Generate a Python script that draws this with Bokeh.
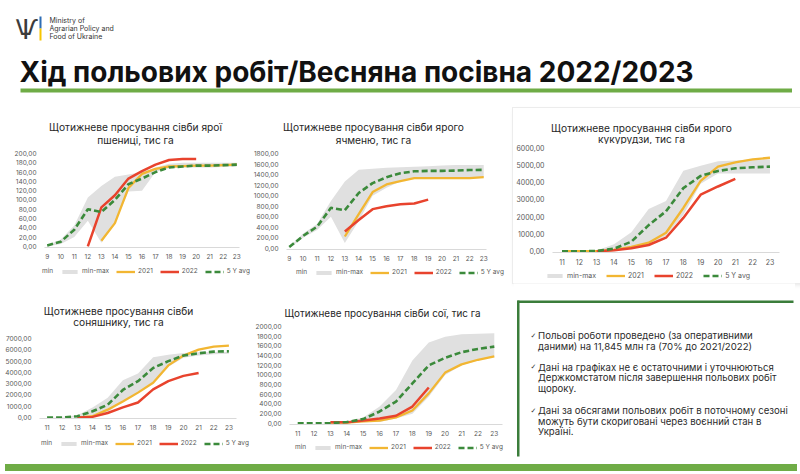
from bokeh.plotting import figure
from bokeh.layouts import column, row
from bokeh.models import (Range1d, FixedTicker, CustomJSTickFormatter, Legend, LegendItem,
                          Label, BoxAnnotation, Div)
from bokeh.embed import file_html
from bokeh.resources import INLINE

# ---------------- data ----------------
weeks_9 = [9, 10, 11, 12, 13, 14, 15, 16, 17, 18, 19, 20, 21, 22, 23]
weeks_11 = [11, 12, 13, 14, 15, 16, 17, 18, 19, 20, 21, 22, 23]

wheat_min = [0, 5, 20, 55, 8, 50, 118, 120, 160, 168, 170, 170, 170, 171, 172]
wheat_max = [2, 15, 45, 105, 130, 150, 155, 160, 170, 178, 180, 180, 180, 180, 180]
wheat_avg = [2, 10, 36, 80, 74, 100, 134, 146, 160, 170, 172, 174, 174, 175, 176]
wheat_w2021 = [13, 14, 15, 16, 17, 18, 19, 20, 21, 22, 23]
wheat_2021 = [12, 50, 126, 156, 167, 172, 173, 174, 174, 175, 176]
wheat_w2022 = [12, 13, 14, 15, 16, 17, 18, 19, 20]
wheat_2022 = [0, 84, 110, 146, 162, 176, 186, 188, 188]

barley_min = [0, 200, 350, 600, 100, 520, 1000, 1150, 1275, 1331, 1331, 1331, 1331, 1331, 1350]
barley_max = [30, 280, 460, 900, 1270, 1490, 1510, 1530, 1540, 1550, 1560, 1570, 1580, 1580, 1580]
barley_avg = [25, 237, 412, 769, 725, 1050, 1237, 1350, 1425, 1462, 1470, 1470, 1475, 1487, 1490]
barley_w2021 = [13, 14, 15, 16, 17, 18, 19, 20, 21, 22, 23]
barley_2021 = [225, 650, 1069, 1212, 1275, 1331, 1331, 1331, 1331, 1331, 1350]
barley_w2022 = [13, 14, 15, 16, 17, 18, 19]
barley_2022 = [319, 537, 744, 800, 837, 850, 925]

corn_min = [0, 0, 0, 20, 150, 350, 900, 2100, 3900, 4500, 4500, 4500, 4500]
corn_max = [0, 0, 50, 400, 1100, 2450, 2900, 4650, 4950, 5200, 5250, 5300, 5300]
corn_avg = [0, 0, 10, 153, 554, 1510, 2312, 3650, 4357, 4643, 4796, 4854, 4892]
corn_w2021 = [11, 12, 13, 14, 15, 16, 17, 18, 19, 20, 21, 22, 23]
corn_2021 = [0, 0, 0, 76, 248, 497, 1070, 2503, 4070, 4892, 5140, 5312, 5408]
corn_w2022 = [13, 14, 15, 16, 17, 18, 19, 20, 21]
corn_2022 = [0, 57, 172, 363, 783, 1930, 3268, 3745, 4185]

sun_min = [0, 0, 0, 50, 500, 1400, 2200, 3100, 4500, 5300, 5500, 5600, 5650]
sun_max = [0, 50, 200, 900, 1750, 3300, 3890, 5340, 5550, 5720, 5780, 5800, 5800]
sun_avg = [0, 0, 116, 552, 1133, 2440, 3224, 4386, 4996, 5489, 5693, 5838, 5867]
sun_w2021 = [13, 14, 15, 16, 17, 18, 19, 20, 21, 22, 23]
sun_2021 = [0, 116, 697, 1423, 2207, 3079, 4618, 5489, 6012, 6274, 6361]
sun_w2022 = [13, 14, 15, 16, 17, 18, 19, 20, 21]
sun_2022 = [0, 58, 407, 900, 1336, 2498, 3224, 3689, 3950]

soy_min = [0, 0, 0, 5, 20, 30, 100, 200, 550, 1000, 1200, 1300, 1380]
soy_max = [0, 0, 20, 40, 120, 350, 690, 1300, 1670, 1790, 1840, 1850, 1860]
soy_avg = [0, 0, 5, 27, 88, 245, 449, 823, 1197, 1354, 1469, 1537, 1585]
soy_w2021 = [13, 14, 15, 16, 17, 18, 19, 20, 21, 22, 23]
soy_2021 = [14, 14, 41, 54, 122, 265, 619, 1048, 1218, 1313, 1381]
soy_w2022 = [13, 14, 15, 16, 17, 18, 19]
soy_2022 = [20, 20, 61, 102, 156, 347, 741]

wheat_yticks = [0, 20, 40, 60, 80, 100, 120, 140, 160, 180, 200]
barley_yticks = [0, 200, 400, 600, 800, 1000, 1200, 1400, 1600, 1800]
corn_yticks = [0, 1000, 2000, 3000, 4000, 5000, 6000]
sun_yticks = [0, 1000, 2000, 3000, 4000, 5000, 6000, 7000]
soy_yticks = [0, 200, 400, 600, 800, 1000, 1200, 1400, 1600, 1800, 2000]

series_labels = ["min", "min-max", "2021", "2022", "5 Y avg"]

slide_title = "Хід польових робіт/Весняна посівна 2022/2023"
ministry_lines = ["Ministry of", "Agrarian Policy and", "Food of Ukraine"]
chart_titles = {
    "wheat": ["Щотижневе просування сівби ярої", "пшениці, тис га"],
    "barley": ["Щотижневе просування сівби ярого", "ячменю, тис га"],
    "corn": ["Щотижневе просування сівби ярого", "кукурудзи, тис га"],
    "sun": ["Щотижневе просування сівби", "соняшнику, тис га"],
    "soy": ["Щотижневе просування сівби сої, тис га"],
}
notes = [
    ["Польові роботи проведено (за оперативними", "даними) на 11,845 млн га (70% до 2021/2022)"],
    ["Дані на графіках не є остаточними і уточнюються", "Держкомстатом після завершення польових робіт", "щороку."],
    ["Дані за обсягами польових робіт в поточному сезоні", "можуть бути скориговані через воєнний стан в", "Україні."],
]

# ---------------- styles ----------------
FONT = "Inter"
C2021 = "#f2b632"
C2022 = "#e8432d"
CAVG = "#3b8a3b"
CBAND = "#e0e0e0"
GREEN = "#6fac46"
DARKGREEN = "#3b7d3b"
AXIS_TXT = "#595959"
W21, W22, WAVG, DASH = 2.3, 2.5, 2.6, "6 3"


def blank_fig(w, h):
    f = figure(frame_width=w, frame_height=h, x_range=Range1d(0, w), y_range=Range1d(h, 0),
               output_backend="svg", toolbar_location=None, min_border=0,
               x_axis_location=None, y_axis_location=None, frame_align=False)
    f.outline_line_color = None
    f.grid.visible = False
    return f


def title_fig(w, h, lines, x, ys, size="10.2px"):
    f = blank_fig(w, h)
    for line, y in zip(lines, ys):
        f.add_layout(Label(x=x, y=y, text=line, text_align="center", text_baseline="middle",
                           text_font=FONT, text_font_size=size, text_color="#262626"))
    return f


def legend_fig(w, h, loc, series, with_min=True, size="6.5px", spacing=7):
    # strip carrying the chart's key; the series are mapped on a hidden range (off-frame)
    weeks, vmin, vmax, x21, y21, x22, y22, avg = series
    f = blank_fig(w, h)
    f.extra_y_ranges = {"hide": Range1d(-3e6, -2e6)}
    k_min = f.line(weeks, vmin, line_alpha=0, y_range_name="hide")
    k_band = f.varea(x=weeks, y1=vmin, y2=vmax, fill_color=CBAND, y_range_name="hide")
    k21 = f.line(x21, y21, line_color=C2021, line_width=W21, y_range_name="hide")
    k22 = f.line(x22, y22, line_color=C2022, line_width=W22, y_range_name="hide")
    kavg = f.line(weeks, avg, line_color=CAVG, line_width=WAVG, line_dash=DASH,
                  y_range_name="hide")
    items = []
    if with_min:
        items.append(LegendItem(label=series_labels[0], renderers=[k_min]))
    items += [LegendItem(label=series_labels[1], renderers=[k_band]),
              LegendItem(label=series_labels[2], renderers=[k21]),
              LegendItem(label=series_labels[3], renderers=[k22]),
              LegendItem(label=series_labels[4], renderers=[kavg])]
    lg = Legend(items=items, orientation="horizontal", location=loc,
                label_text_font_size=size, label_text_color=AXIS_TXT, label_text_font=FONT,
                glyph_width=19, glyph_height=5, label_height=8, label_width=0,
                label_standoff=3, spacing=spacing, padding=0, margin=0,
                border_line_color=None, background_fill_alpha=0)
    f.add_layout(lg)
    return f


def make_chart(series, yticks, xr, fw, fh, lb, rb, tb, bb, tick_size="6.5px"):
    weeks, vmin, vmax, x21, y21, x22, y22, avg = series
    top = yticks[-1]
    ymin = -top * 0.012
    p = figure(frame_width=fw, frame_height=fh, output_backend="svg", toolbar_location=None,
               x_range=Range1d(*xr), y_range=Range1d(ymin, top), title=None,
               min_border_left=lb, min_border_right=rb, min_border_top=tb, min_border_bottom=bb,
               frame_align=False)
    p.outline_line_color = None
    p.xgrid.visible = False
    p.ygrid.visible = False
    p.xaxis.ticker = FixedTicker(ticks=weeks)
    p.yaxis.ticker = FixedTicker(ticks=yticks)
    p.yaxis.formatter = CustomJSTickFormatter(code="return tick.toFixed(2).replace('.', ',');")
    for ax in p.axis:
        ax.major_label_text_font_size = tick_size
        ax.major_label_text_color = AXIS_TXT
        ax.major_label_text_font = FONT
        ax.major_tick_line_color = None
        ax.minor_tick_line_color = None
    p.xaxis.major_label_standoff = 0
    p.yaxis.major_label_standoff = 2
    p.yaxis.axis_line_color = None
    p.xaxis.axis_line_color = "#d9d9d9"

    p.varea(x=weeks, y1=vmin, y2=vmax, fill_color=CBAND)
    p.line(x21, y21, line_color=C2021, line_width=W21)
    p.line(x22, y22, line_color=C2022, line_width=W22)
    p.line(weeks, avg, line_color=CAVG, line_width=WAVG, line_dash=DASH)
    return p


wheat = (weeks_9, wheat_min, wheat_max, wheat_w2021, wheat_2021, wheat_w2022, wheat_2022, wheat_avg)
barley = (weeks_9, barley_min, barley_max, barley_w2021, barley_2021, barley_w2022, barley_2022, barley_avg)
corn = (weeks_11, corn_min, corn_max, corn_w2021, corn_2021, corn_w2022, corn_2022, corn_avg)
sun = (weeks_11, sun_min, sun_max, sun_w2021, sun_2021, sun_w2022, sun_2022, sun_avg)
soy = (weeks_11, soy_min, soy_max, soy_w2021, soy_2021, soy_w2022, soy_2022, soy_avg)

# row 1 (175 px tall)
t1 = title_fig(250, 38, chart_titles["wheat"], 135, (18, 31))
f1 = make_chart(wheat, wheat_yticks, (8.8, 23.2), 195, 94, 44, 11, 7, 18)
l1 = legend_fig(250, 18, (20, 8), wheat)

t2 = title_fig(260, 38, chart_titles["barley"], 123, (18, 31))
f2 = make_chart(barley, barley_yticks, (8.8, 23.2), 200, 96, 33, 27, 7, 18)
l2 = legend_fig(260, 16, (24, 7), barley)

t3 = title_fig(282, 36, chart_titles["corn"], 128, (19.7, 30.3))
f3 = make_chart(corn, corn_yticks, (10.45, 23.55), 227, 105, 30, 25, 3, 18, tick_size="7px")
l3 = legend_fig(282, 13, (32, 3), corn, with_min=False, size="7px", spacing=10)

# row 2 (176 px tall)
t4 = title_fig(252, 45, chart_titles["sun"], 118, (27, 38.5))
f4 = make_chart(sun, sun_yticks, (10.5, 23.5), 197, 80, 39, 16, 10, 18)
l4 = legend_fig(252, 23, (19, 12), sun)

t5 = title_fig(258, 37, chart_titles["soy"], 130, (29.7,), size="9.9px")
f5 = make_chart(soy, soy_yticks, (10.5, 23.5), 213, 98, 34, 11, 6, 18)
l5 = legend_fig(258, 17, (21, 8), soy)

# ---------------- header ----------------
hdr = blank_fig(792, 108)
hdr.add_layout(Label(x=26.5, y=29, text="Ѱ", text_align="center", text_baseline="middle",
                     text_font="DejaVu Sans", text_font_size="26px", text_color="#3c3c3c"))
hdr.add_layout(BoxAnnotation(left=39, right=41, top=16, bottom=28, fill_color="#2d6db5",
                             fill_alpha=1, line_color=None))
hdr.add_layout(BoxAnnotation(left=39, right=41, top=28, bottom=40, fill_color="#f7c600",
                             fill_alpha=1, line_color=None))
for i, t in enumerate(ministry_lines):
    hdr.add_layout(Label(x=49, y=20 + 8 * i, text=t, text_baseline="middle",
                         text_font=FONT, text_font_size="7px", text_color="#333333"))
hdr.add_layout(Label(x=19, y=71, text=slide_title, text_baseline="middle",
                     text_font=FONT, text_font_style="bold", text_font_size="28px",
                     text_color="#111111"))
hdr.add_layout(BoxAnnotation(left=20, right=792, top=88, bottom=92, fill_color=GREEN,
                             fill_alpha=1, line_color=None))

# ---------------- notes box ----------------
tb = blank_fig(282, 176)
tb.add_layout(BoxAnnotation(left=4, right=280, top=17, bottom=19.5, fill_color=DARKGREEN,
                            fill_alpha=1, line_color=None))
tb.add_layout(BoxAnnotation(left=3.5, right=6, top=17, bottom=173, fill_color=DARKGREEN,
                            fill_alpha=1, line_color=None))
para_tops = [52, 83.7, 127]
for top_y, para in zip(para_tops, notes):
    tb.add_layout(Label(x=20, y=top_y, text="✓", text_align="center", text_baseline="middle",
                        text_font="DejaVu Sans", text_font_size="7px", text_color="#333333"))
    for j, t in enumerate(para):
        tb.add_layout(Label(x=24.5, y=top_y + 10.6 * j, text=t, text_baseline="middle",
                            text_font=FONT, text_font_size="9.6px", text_color="#2b2b2b"))

band = Div(width=792, height=7, styles={"background-color": GREEN})

box3 = column(t3, f3, l3, styles={"box-shadow": "0 0 0 1px #ececec, 1px 2px 4px rgba(0,0,0,0.10)"})
layout = column(hdr,
                row(column(t1, f1, l1), column(t2, f2, l2), box3),
                row(column(t4, f4, l4), column(t5, f5, l5), tb),
                band)

open("out.html", "w").write(file_html(layout, INLINE))
